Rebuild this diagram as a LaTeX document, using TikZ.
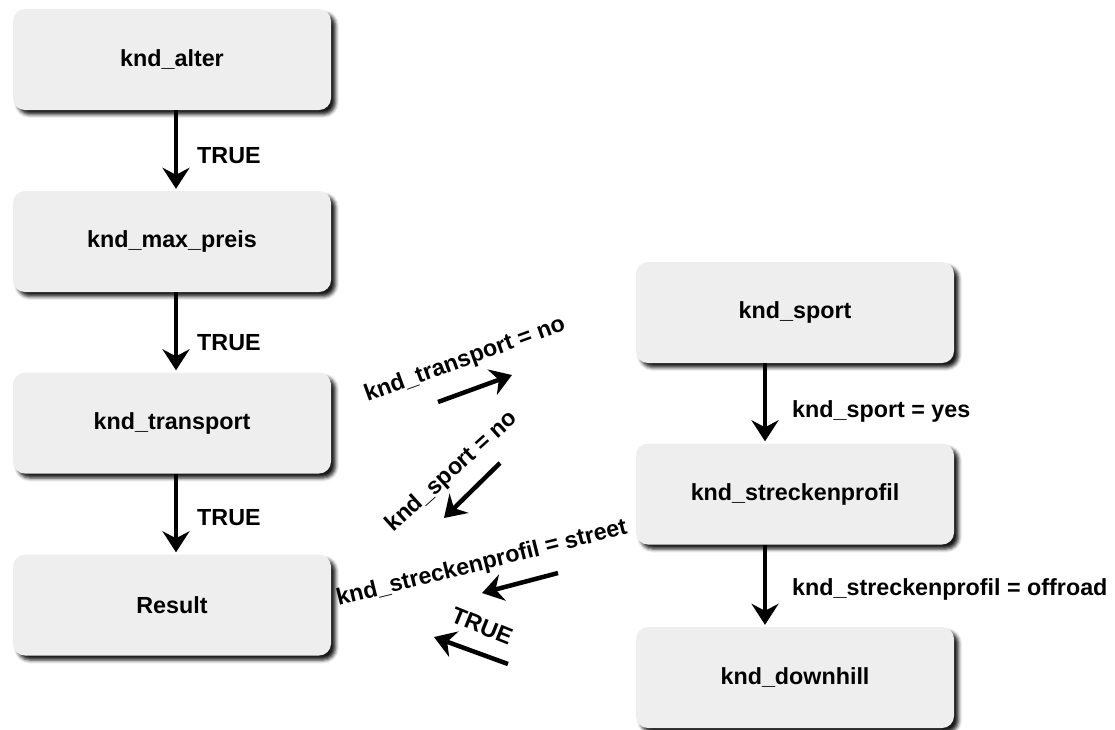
\documentclass[tikz,border=0pt]{standalone}
\usepackage{fontspec}
\setmainfont{Liberation Sans}
\usetikzlibrary{arrows.meta,shadows.blur,calc}
\definecolor{boxfill}{HTML}{EEEEEE}
\begin{document}
\begin{tikzpicture}[x=1pt,y=-1pt,
  box/.style={rounded corners=12pt, fill=boxfill, minimum width=318pt, minimum height=101pt, inner sep=0pt,
    font=\fontsize{23.3}{28}\selectfont\bfseries,
    blur shadow={shadow xshift=4.5pt, shadow yshift=-4.5pt, shadow blur radius=3.5pt, shadow opacity=90}},
  lbl/.style={font=\fontsize{23.3}{28}\selectfont\bfseries, inner sep=0pt},
  arr/.style={line width=4.5pt, -{Stealth[length=21pt,width=27pt,inset=7pt]}}]
\useasboundingbox (0,0) rectangle (1115,729);

\node[box] (alter) at (172,59.5) {knd\_alter};
\node[box] (preis) at (172,241.5) {knd\_max\_preis};
\node[box] (transport) at (172,423) {knd\_transport};
\node[box] (result) at (172,605) {Result};
\node[box] (sport) at (795,312.5) {knd\_sport};
\node[box] (strecken) at (795,494) {knd\_streckenprofil};
\node[box] (downhill) at (795,677.5) {knd\_downhill};

\draw[arr] ([xshift=4pt]alter.south) -- ([xshift=4pt,yshift=2pt]preis.north);
\draw[arr] ([xshift=4pt]preis.south) -- ([xshift=4pt,yshift=2pt]transport.north);
\draw[arr] ([xshift=4pt]transport.south) -- ([xshift=4pt,yshift=2pt]result.north);
\draw[arr] ([xshift=-30pt]sport.south) -- ([xshift=-30pt,yshift=2pt]strecken.north);
\draw[arr] ([xshift=-30pt]strecken.south) -- ([xshift=-30pt,yshift=2pt]downhill.north);

\node[lbl, anchor=base west] (t1) at (197,163) {TRUE};
\node[lbl, anchor=base west] (t2) at (197,350) {TRUE};
\node[lbl, anchor=base west] (t3) at (197,525) {TRUE};
\node[lbl, anchor=base west] (ys) at (792,417) {knd\_sport = yes};
\node[lbl, anchor=base west] (yo) at (792,595) {knd\_streckenprofil = offroad};

\coordinate (d1s) at (438,402); \coordinate (d1e) at (512,375);
\draw[arr] (d1s) -- (d1e);
\node[lbl, rotate=20] (l1) at (465,360) {knd\_transport = no};

\coordinate (d2s) at (500,463); \coordinate (d2e) at (444,518);
\draw[arr] (d2s) -- (d2e);
\node[lbl, rotate=42] (l2) at (452,472) {knd\_sport = no};

\coordinate (d3s) at (558,573); \coordinate (d3e) at (482,593);
\draw[arr] (d3s) -- (d3e);
\node[lbl, rotate=14] (l3) at (482,564) {knd\_streckenprofil = street};

\coordinate (d4s) at (508,664); \coordinate (d4e) at (434,637);
\draw[arr] (d4s) -- (d4e);
\node[lbl, rotate=-22] (l4) at (482,626) {TRUE};
\end{tikzpicture}
\end{document}
